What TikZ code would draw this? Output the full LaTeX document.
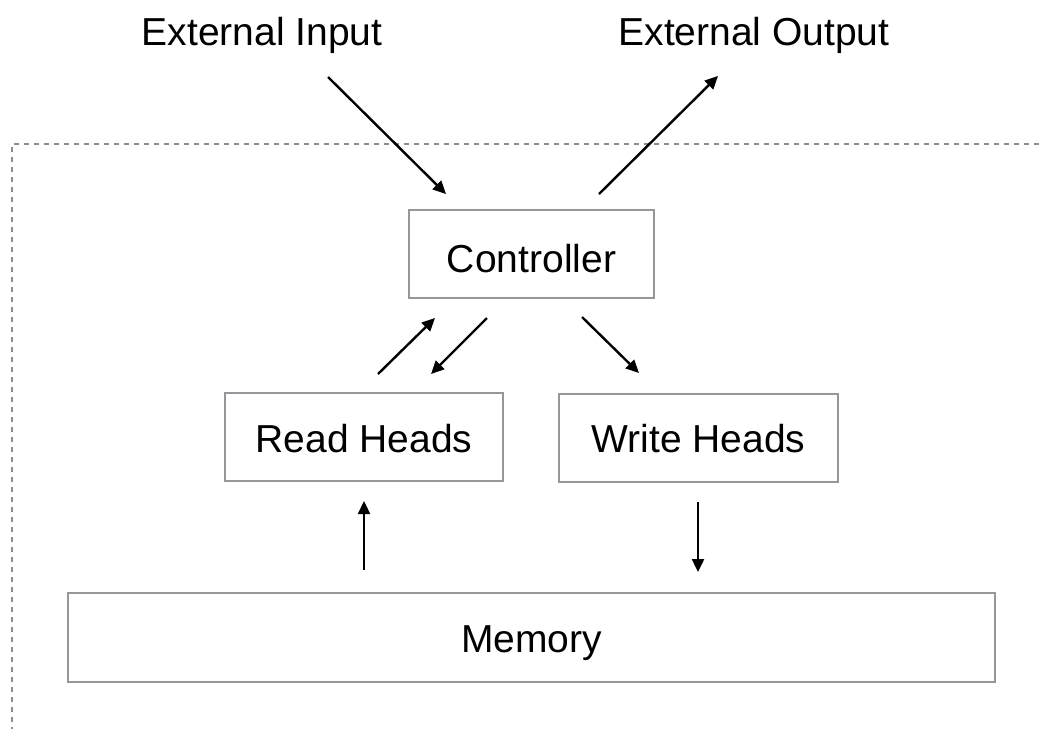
\documentclass[tikz,border=0pt]{standalone}
\usepackage{fontspec}
\setmainfont{Liberation Sans}
\usetikzlibrary{arrows.meta}
\definecolor{boxgray}{RGB}{150,150,155}
\definecolor{dotgray}{RGB}{140,140,140}
\begin{document}
\begin{tikzpicture}[x=1pt,y=-1pt,
  blk/.style={draw=boxgray,line width=2pt,fill=white,inner sep=0pt,
    text height=30pt,text depth=0pt,
    font=\fontsize{39}{47}\selectfont},
  lbl/.style={inner sep=0pt,anchor=base,font=\fontsize{39}{47}\selectfont},
  conn/.style={line width=2.4pt,-{Triangle[length=13pt,width=12pt]}},
  frame/.style={dotgray,line width=2pt,dash pattern=on 5pt off 5pt}]
\useasboundingbox[fill=white] (0,0) rectangle (1039,729);
% dotted frame
\draw[frame] (1039,144) -- (12,144) -- (12,729);
% labels
\node[lbl] (ein) at (262,45) {External Input};
\node[lbl] (eout) at (754,45) {External Output};
% boxes
\node[blk,text height=36pt,minimum width=245pt,minimum height=88pt] (ctrl) at (531.5,254) {Controller};
\node[blk,minimum width=278pt,minimum height=88pt] (read) at (364,437) {Read Heads};
\node[blk,minimum width=279pt,minimum height=88pt] (write) at (698.5,437.5) {Write Heads};
\node[blk,text height=29pt,minimum width=927pt,minimum height=89pt] (mem) at (531.5,637.5) {Memory};
% connector end points
\coordinate (a1s) at (328,77);   \coordinate (a1e) at (446,194);
\coordinate (a2s) at (599,194);  \coordinate (a2e) at (718,76);
\coordinate (a3s) at (378,374);  \coordinate (a3e) at (435,318);
\coordinate (a4s) at (487,318);  \coordinate (a4e) at (431,374);
\coordinate (a5s) at (582,317);  \coordinate (a5e) at (639,373);
\coordinate (a6s) at (364,570);  \coordinate (a6e) at (364,501);
\coordinate (a7s) at (698,502);  \coordinate (a7e) at (698,572);
% connectors
\draw[conn] (a1s) -- (a1e);
\draw[conn] (a2s) -- (a2e);
\draw[conn] (a3s) -- (a3e);
\draw[conn] (a4s) -- (a4e);
\draw[conn] (a5s) -- (a5e);
\draw[conn] (a6s) -- (a6e);
\draw[conn] (a7s) -- (a7e);
\end{tikzpicture}
\end{document}
